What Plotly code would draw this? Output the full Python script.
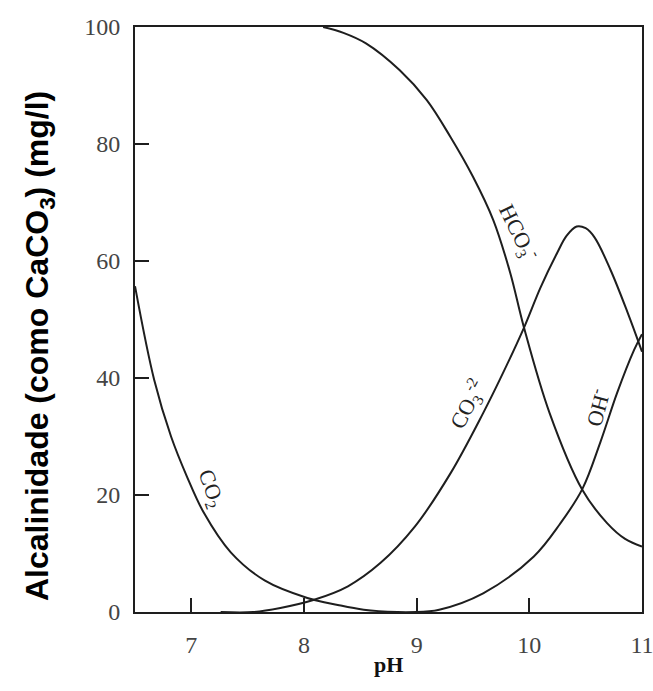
import plotly.graph_objects as go

# --- data ---
ph_hco3 = [8.17, 8.35, 8.55, 8.85, 9.09, 9.30, 9.50, 9.68, 9.83, 9.95, 10.18, 10.47, 10.69, 10.85, 11.0]
hco3 = [100, 99.0, 97.2, 92.6, 87.5, 81.2, 74.4, 67.0, 58.0, 48.8, 34.0, 20.9, 15.2, 12.5, 11.2]

ph_co3 = [7.26, 7.55, 7.79, 8.09, 8.39, 8.68, 8.98, 9.30, 9.59, 9.74, 9.95, 10.1, 10.25, 10.33, 10.42, 10.5, 10.58, 10.72, 10.87, 11.0]
co3 = [0, 0, 0.7, 2.1, 4.4, 8.4, 14.5, 23.7, 34.0, 39.8, 48.5, 55.5, 61.5, 64.3, 65.9, 65.6, 64.0, 58.5, 51.3, 44.5]

ph_co2 = [6.5, 6.67, 6.82, 6.96, 7.11, 7.35, 7.65, 8.03, 8.3, 8.53, 8.83, 9.0]
co2 = [55.7, 39.7, 30.0, 23.2, 17.0, 10.2, 5.4, 2.4, 1.2, 0.4, 0, 0]

ph_oh = [9.0, 9.2, 9.59, 10.04, 10.27, 10.47, 10.63, 10.78, 10.93, 11.0]
oh = [0, 0.4, 3.2, 9.5, 15.0, 21.0, 29.0, 37.5, 44.8, 47.5]

x_ticks = [7, 8, 9, 10, 11]
y_ticks = [0, 20, 40, 60, 80, 100]

curve_labels = ["HCO<sub>3</sub><sup>-</sup>", "CO<sub>3</sub><sup>-2</sup>", "OH<sup>-</sup>", "CO<sub>2</sub>"]
label_pos = [(9.9, 65.0, 64), (9.45, 35.5, -62), (10.6, 35.0, -75), (7.17, 21.0, 70)]

LINE = "#1e1e1e"
SERIF = "Liberation Serif, Times New Roman, serif"

fig = go.Figure()
for xs, ys in [(ph_hco3, hco3), (ph_co3, co3), (ph_co2, co2), (ph_oh, oh)]:
    fig.add_trace(go.Scatter(x=xs, y=ys, mode="lines",
                             line=dict(color=LINE, width=2, shape="spline", smoothing=1.0),
                             showlegend=False, hoverinfo="skip"))

for txt, (x, y, ang) in zip(curve_labels, label_pos):
    fig.add_annotation(x=x, y=y, text=txt, showarrow=False, textangle=ang,
                       xanchor="center", yanchor="middle",
                       font=dict(family=SERIF, size=22, color="#222"))

fig.add_annotation(xref="paper", yref="paper", x=-0.187, y=0.455,
                   xanchor="center", yanchor="middle",
                   text="<b>Alcalinidade (como CaCO<sub>3</sub>) (mg/l)</b>", showarrow=False,
                   textangle=-90,
                   font=dict(family="Liberation Sans Narrow, Arial Narrow, Liberation Sans, Arial, sans-serif",
                             size=32, color="#000"))
fig.add_annotation(xref="paper", yref="paper", x=0.5, y=-0.09,
                   xanchor="center", yanchor="middle", text="<b>pH</b>",
                   showarrow=False, font=dict(family=SERIF, size=22, color="#111"))

fig.update_xaxes(range=[6.5, 11], tickvals=x_ticks, ticktext=[str(v) for v in x_ticks],
                 ticks="inside", ticklen=14, tickwidth=2, tickcolor=LINE,
                 showline=True, linecolor=LINE, linewidth=2, mirror=True,
                 showgrid=False, zeroline=False, ticklabelstandoff=10, automargin=False,
                 ticklabeloverflow="allow",
                 tickfont=dict(family=SERIF, size=24, color="#444"))
fig.update_yaxes(range=[0, 100], tickvals=y_ticks, ticktext=[str(v) for v in y_ticks],
                 ticks="inside", ticklen=14, tickwidth=2, tickcolor=LINE,
                 showline=True, linecolor=LINE, linewidth=2, mirror=True,
                 showgrid=False, zeroline=False, ticklabelstandoff=8, automargin=False,
                 ticklabeloverflow="allow",
                 tickfont=dict(family=SERIF, size=24, color="#444"))

fig.update_layout(width=653, height=691, margin=dict(l=135, r=11, t=27, b=79),
                  plot_bgcolor="white", paper_bgcolor="white")

fig.write_html("out.html")
